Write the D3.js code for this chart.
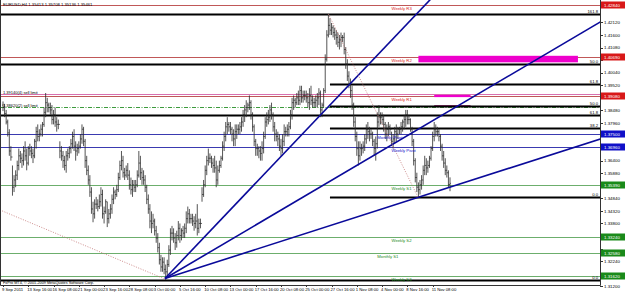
<!DOCTYPE html>
<html>
<head>
<meta charset="utf-8">
<script src="https://cdn.jsdelivr.net/npm/d3@7"></script>
<style>
    body { margin: 0; background: #fff; }
    svg { display: block; }
    text { font-family: "Liberation Sans", Arial, sans-serif; }
</style>
</head>
<body>
<svg id="chart" width="625" height="293"></svg>
<script>
var chartTitle = 'EURUSD,H4  1.35413 1.35708 1.35136 1.35461';
var copyright = 'FxPro MT4, \u00a9 2001-2009 MetaQuotes Software Corp.';

// H4 bars, [high, low, close]; open is the previous close
var firstOpen = 1.3870;
var bars = [
    // 9 Sep
    [1.3885,1.3845,1.3860],[1.3875,1.3820,1.3835],[1.3850,1.3790,1.3800],[1.3810,1.3740,1.3755],[1.3770,1.3660,1.3680],[1.3700,1.3640,1.3655],
    // 12 Sep
    [1.3620,1.3495,1.3530],[1.3580,1.3510,1.3560],[1.3600,1.3530,1.3580],[1.3640,1.3560,1.3620],[1.3690,1.3600,1.3660],[1.3680,1.3630,1.3650],
    [1.3670,1.3610,1.3640],[1.3700,1.3620,1.3680],[1.3720,1.3640,1.3660],[1.3690,1.3600,1.3630],[1.3700,1.3620,1.3690],[1.3710,1.3660,1.3680],
    [1.3700,1.3650,1.3670],[1.3690,1.3630,1.3660],[1.3730,1.3650,1.3720],[1.3780,1.3690,1.3760],[1.3790,1.3720,1.3740],[1.3770,1.3720,1.3750],
    [1.3790,1.3740,1.3770],[1.3800,1.3740,1.3790],[1.3860,1.3780,1.3840],[1.3920,1.3820,1.3880],[1.3900,1.3840,1.3870],[1.3880,1.3840,1.3860],
    [1.3880,1.3830,1.3850],[1.3870,1.3790,1.3810],[1.3850,1.3790,1.3830],[1.3860,1.3780,1.3800],[1.3820,1.3760,1.3790],[1.3810,1.3770,1.3790],
    // 19 Sep
    [1.3720,1.3650,1.3680],[1.3700,1.3640,1.3660],[1.3680,1.3610,1.3640],[1.3660,1.3600,1.3620],[1.3680,1.3590,1.3660],[1.3690,1.3640,1.3670],
    [1.3700,1.3650,1.3690],[1.3730,1.3670,1.3710],[1.3760,1.3690,1.3740],[1.3770,1.3680,1.3700],[1.3720,1.3640,1.3680],[1.3710,1.3660,1.3690],
    [1.3720,1.3670,1.3700],[1.3750,1.3690,1.3730],[1.3790,1.3710,1.3770],[1.3780,1.3700,1.3720],[1.3730,1.3610,1.3640],[1.3660,1.3580,1.3600],
    [1.3620,1.3540,1.3560],[1.3580,1.3490,1.3510],[1.3530,1.3420,1.3440],[1.3470,1.3385,1.3420],[1.3480,1.3400,1.3460],[1.3490,1.3440,1.3460],
    [1.3480,1.3430,1.3450],[1.3500,1.3440,1.3470],[1.3530,1.3450,1.3500],[1.3520,1.3400,1.3420],[1.3450,1.3380,1.3430],[1.3480,1.3420,1.3470],
    // 26 Sep
    [1.3470,1.3365,1.3400],[1.3440,1.3380,1.3420],[1.3460,1.3400,1.3440],[1.3500,1.3420,1.3480],[1.3530,1.3460,1.3510],[1.3520,1.3480,1.3500],
    [1.3540,1.3490,1.3520],[1.3590,1.3510,1.3570],[1.3640,1.3560,1.3620],[1.3680,1.3600,1.3640],[1.3660,1.3570,1.3590],[1.3610,1.3560,1.3580],
    [1.3620,1.3570,1.3600],[1.3630,1.3560,1.3580],[1.3600,1.3520,1.3540],[1.3570,1.3500,1.3520],[1.3560,1.3490,1.3540],[1.3560,1.3510,1.3530],
    [1.3560,1.3510,1.3540],[1.3600,1.3530,1.3580],[1.3680,1.3570,1.3630],[1.3660,1.3560,1.3590],[1.3610,1.3540,1.3570],[1.3600,1.3540,1.3560],
    [1.3580,1.3510,1.3530],[1.3540,1.3460,1.3480],[1.3500,1.3420,1.3440],[1.3460,1.3360,1.3390],[1.3430,1.3340,1.3380],[1.3420,1.3360,1.3390],
    // 3 Oct
    [1.3400,1.3330,1.3350],[1.3370,1.3300,1.3320],[1.3340,1.3260,1.3280],[1.3300,1.3210,1.3230],[1.3250,1.3180,1.3200],[1.3240,1.3180,1.3220],
    [1.3240,1.3170,1.3190],[1.3210,1.3146,1.3180],[1.3230,1.3160,1.3210],[1.3290,1.3200,1.3270],[1.3360,1.3250,1.3340],[1.3370,1.3310,1.3340],
    [1.3360,1.3300,1.3320],[1.3340,1.3270,1.3300],[1.3350,1.3280,1.3330],[1.3390,1.3310,1.3360],[1.3380,1.3300,1.3330],[1.3360,1.3310,1.3350],
    [1.3370,1.3320,1.3340],[1.3380,1.3320,1.3360],[1.3430,1.3340,1.3400],[1.3450,1.3380,1.3420],[1.3440,1.3380,1.3400],[1.3420,1.3380,1.3400],
    [1.3420,1.3370,1.3390],[1.3410,1.3350,1.3380],[1.3420,1.3360,1.3390],[1.3460,1.3330,1.3360],[1.3400,1.3340,1.3380],[1.3400,1.3360,1.3380],
    // 10 Oct
    [1.3530,1.3470,1.3500],[1.3560,1.3490,1.3540],[1.3620,1.3530,1.3600],[1.3660,1.3580,1.3640],[1.3690,1.3620,1.3650],[1.3670,1.3630,1.3650],
    [1.3660,1.3610,1.3630],[1.3650,1.3590,1.3620],[1.3660,1.3590,1.3610],[1.3640,1.3530,1.3560],[1.3620,1.3540,1.3600],[1.3640,1.3590,1.3620],
    [1.3660,1.3610,1.3650],[1.3720,1.3640,1.3700],[1.3760,1.3680,1.3740],[1.3800,1.3720,1.3780],[1.3820,1.3750,1.3790],[1.3800,1.3760,1.3780],
    [1.3800,1.3750,1.3770],[1.3780,1.3720,1.3750],[1.3770,1.3700,1.3730],[1.3790,1.3700,1.3760],[1.3790,1.3730,1.3770],[1.3790,1.3750,1.3770],
    [1.3800,1.3750,1.3780],[1.3820,1.3760,1.3800],[1.3850,1.3780,1.3830],[1.3870,1.3800,1.3850],[1.3890,1.3820,1.3860],[1.3880,1.3840,1.3870],
    // 17 Oct
    [1.3910,1.3850,1.3880],[1.3890,1.3810,1.3830],[1.3840,1.3760,1.3780],[1.3790,1.3700,1.3720],[1.3730,1.3660,1.3690],[1.3710,1.3660,1.3690],
    [1.3700,1.3650,1.3680],[1.3700,1.3640,1.3670],[1.3720,1.3640,1.3690],[1.3760,1.3670,1.3740],[1.3820,1.3730,1.3800],[1.3840,1.3780,1.3810],
    [1.3850,1.3790,1.3820],[1.3870,1.3800,1.3850],[1.3880,1.3810,1.3830],[1.3840,1.3760,1.3780],[1.3800,1.3720,1.3750],[1.3770,1.3720,1.3740],
    [1.3760,1.3700,1.3730],[1.3750,1.3680,1.3700],[1.3730,1.3660,1.3690],[1.3750,1.3670,1.3720],[1.3790,1.3700,1.3760],[1.3780,1.3740,1.3760],
    [1.3790,1.3740,1.3770],[1.3800,1.3740,1.3780],[1.3850,1.3770,1.3830],[1.3900,1.3810,1.3880],[1.3910,1.3850,1.3890],[1.3900,1.3860,1.3880],
    // 24 Oct
    [1.3920,1.3870,1.3900],[1.3930,1.3870,1.3890],[1.3950,1.3870,1.3930],[1.3950,1.3880,1.3900],[1.3930,1.3880,1.3910],[1.3930,1.3890,1.3910],
    [1.3930,1.3880,1.3900],[1.3920,1.3860,1.3880],[1.3940,1.3850,1.3910],[1.3950,1.3870,1.3890],[1.3910,1.3860,1.3880],[1.3900,1.3860,1.3880],
    [1.3910,1.3860,1.3890],[1.3920,1.3860,1.3900],[1.3940,1.3870,1.3920],[1.3930,1.3820,1.3850],[1.3880,1.3820,1.3870],[1.3940,1.3860,1.3930],
    [1.4080,1.3920,1.4060],[1.4180,1.4050,1.4160],[1.4247,1.4150,1.4200],[1.4230,1.4160,1.4180],[1.4210,1.4160,1.4190],[1.4200,1.4150,1.4170],
    [1.4190,1.4140,1.4160],[1.4180,1.4120,1.4150],[1.4170,1.4110,1.4130],[1.4160,1.4100,1.4140],[1.4170,1.4110,1.4150],[1.4160,1.4130,1.4150],
    // 31 Oct
    [1.4170,1.4080,1.4100],[1.4110,1.4020,1.4040],[1.4060,1.3970,1.3990],[1.4010,1.3940,1.3960],[1.3980,1.3900,1.3930],[1.3950,1.3850,1.3870],
    [1.3880,1.3780,1.3800],[1.3820,1.3720,1.3740],[1.3760,1.3660,1.3690],[1.3720,1.3620,1.3660],[1.3720,1.3640,1.3690],[1.3710,1.3660,1.3690],
    [1.3720,1.3670,1.3700],[1.3750,1.3680,1.3730],[1.3790,1.3710,1.3770],[1.3800,1.3730,1.3760],[1.3780,1.3720,1.3750],[1.3770,1.3730,1.3750],
    [1.3760,1.3700,1.3720],[1.3730,1.3660,1.3690],[1.3740,1.3640,1.3710],[1.3840,1.3690,1.3800],[1.3870,1.3780,1.3820],[1.3840,1.3790,1.3820],
    [1.3840,1.3790,1.3810],[1.3830,1.3760,1.3790],[1.3800,1.3730,1.3750],[1.3790,1.3720,1.3770],[1.3800,1.3740,1.3780],[1.3790,1.3750,1.3770],
    // 7 Nov
    [1.3760,1.3700,1.3720],[1.3750,1.3690,1.3730],[1.3780,1.3710,1.3760],[1.3790,1.3720,1.3750],[1.3780,1.3730,1.3770],[1.3780,1.3750,1.3770],
    [1.3800,1.3750,1.3780],[1.3810,1.3760,1.3800],[1.3830,1.3770,1.3810],[1.3850,1.3780,1.3830],[1.3850,1.3790,1.3810],[1.3830,1.3790,1.3810],
    [1.3815,1.3760,1.3770],[1.3780,1.3700,1.3720],[1.3730,1.3620,1.3640],[1.3650,1.3550,1.3570],[1.3590,1.3510,1.3530],[1.3550,1.3485,1.3520],
    [1.3560,1.3500,1.3540],[1.3580,1.3520,1.3560],[1.3620,1.3540,1.3600],[1.3660,1.3580,1.3620],[1.3650,1.3580,1.3610],[1.3640,1.3590,1.3620],
    [1.3660,1.3610,1.3650],[1.3700,1.3640,1.3690],[1.3760,1.3680,1.3740],[1.3800,1.3720,1.3770],[1.3790,1.3740,1.3760],[1.3780,1.3740,1.3760],
    // 14 Nov
    [1.3770,1.3720,1.3740],[1.3750,1.3680,1.3700],[1.3710,1.3640,1.3660],[1.3680,1.3610,1.3630],[1.3650,1.3580,1.3600],[1.3620,1.3570,1.3590],
    [1.3600,1.3530,1.35413],[1.35708,1.35136,1.35461]
];

var timeLabels = ['9 Sep 2011', '13 Sep 16:00', '16 Sep 08:00', '21 Sep 00:00', '23 Sep 16:00',
    '28 Sep 08:00', '3 Oct 00:00', '5 Oct 16:00', '10 Oct 08:00', '13 Oct 00:00', '17 Oct 16:00',
    '20 Oct 08:00', '25 Oct 00:00', '27 Oct 16:00', '1 Nov 08:00', '4 Nov 00:00', '8 Nov 16:00',
    '11 Nov 08:00'];
var barsPerLabel = 16;

var priceTicks = [1.31200, 1.31720, 1.32240, 1.32760, 1.33280, 1.33800, 1.34320, 1.34840,
    1.35360, 1.35880, 1.36400, 1.36920, 1.37440, 1.37960, 1.38480, 1.39000, 1.39520,
    1.40040, 1.40560, 1.41080, 1.41600, 1.42120];

// pivot levels [name, price]
var pivots = [
    ['Weekly R3', 1.4284], ['Weekly R2', 1.4069], ['Weekly R1', 1.3908],
    ['Monthly Pivot', 1.3750], ['Weekly Pivot', 1.3696], ['Weekly S1', 1.3539],
    ['Weekly S2', 1.3324], ['Monthly S1', 1.3258], ['Weekly S3', 1.3162]
];

// fibo level lines [label, price, first bar]
var fibLevels = [
    ['161.8', 1.4247, -10], ['50.0', 1.4040, -10], ['61.8', 1.3829, -10], ['0.0', 1.3146, -10],
    ['61.8', 1.3957, 207], ['50.0', 1.3866, 207], ['38.2', 1.3775, 207], ['0.0', 1.3489, 207]
];

// pending orders [text, price]
var orders = [['1.39140(4) sell limit', 1.3914], ['1.38620(2) sell limit', 1.3862]];

// rectangles [bar from, bar to, price top, price bottom]
var zones = [[263, 364, 1.4074, 1.4047], [273, 296, 1.3912, 1.3903], [273, 296, 1.3870, 1.3862]];
var zoneColors = ['#ee00cc', '#ee00cc', '#a0307a'];

// trend lines [bar1, price1, bar2, price2]
var trendLines = [[102.5, 1.3152, 257.6, 1.4218], [102.5, 1.3152, 307, 1.3940], [102.5, 1.3152, 257.6, 1.3477]];
var fiboDiagonals = [[206, 1.4247, 263, 1.3485], [-2, 1.3436, 102.5, 1.3150]];

var width = 625, height = 293;
var plotRight = 600, plotBottom = 285;

var svg = d3.select('#chart');
var x = d3.scaleLinear().domain([0, 283]).range([3, 450]);
var y = d3.scaleLinear().domain([1.3146, 1.4247]).range([280, 14]);
var fmt = d3.format('.5f');

svg.append('rect').attr('width', width).attr('height', height).attr('fill', '#fff');

svg.append('defs').append('clipPath').attr('id', 'plotClip')
    .append('rect').attr('x', 0).attr('y', 0).attr('width', plotRight).attr('height', plotBottom);

var plot = svg.append('g').attr('clip-path', 'url(#plotClip)');

function pivotColor(name) {
    if (name.indexOf('Pivot') != -1) return '#3a3ab0';
    if (/ R\d/.test(name)) return '#c05858';
    return '#6cae6c';
}

function boxColor(name) {
    if (name.indexOf('Pivot') != -1) return '#1010c8';
    if (/ R\d/.test(name)) return '#d81818';
    return '#1a8a1a';
}

// pivot lines
plot.selectAll('line.pivot')
    .data(pivots)
    .enter().append('line')
    .attr('class', 'pivot')
    .attr('x1', 0).attr('x2', plotRight)
    .attr('y1', function (d) { return Math.round(y(d[1])) + 0.5; })
    .attr('y2', function (d) { return Math.round(y(d[1])) + 0.5; })
    .attr('stroke', function (d) { return pivotColor(d[0]); })
    .attr('stroke-width', 1);

// pending orders
plot.selectAll('line.order')
    .data(orders)
    .enter().append('line')
    .attr('class', 'order')
    .attr('x1', 0).attr('x2', plotRight)
    .attr('y1', function (d) { return Math.round(y(d[1])) + 0.5; })
    .attr('y2', function (d) { return Math.round(y(d[1])) + 0.5; })
    .attr('stroke', function (d, i) { return i == 0 ? '#d870b0' : '#3c9a3c'; })
    .attr('stroke-dasharray', function (d, i) { return i == 0 ? null : '4,1.5,1,1.5'; })
    .attr('stroke-width', 1);

// rectangles
plot.selectAll('rect.zone')
    .data(zones)
    .enter().append('rect')
    .attr('class', 'zone')
    .attr('x', function (d) { return x(d[0]); })
    .attr('width', function (d) { return x(d[1]) - x(d[0]); })
    .attr('y', function (d) { return y(d[2]); })
    .attr('height', function (d) { return Math.max(2, y(d[3]) - y(d[2])); })
    .attr('fill', function (d, i) { return zoneColors[i]; });

// fibo levels
plot.selectAll('line.fib')
    .data(fibLevels)
    .enter().append('line')
    .attr('class', 'fib')
    .attr('x1', function (d) { return x(d[2]); }).attr('x2', plotRight)
    .attr('y1', function (d) { return Math.round(y(d[1])) + 0.5; })
    .attr('y2', function (d) { return Math.round(y(d[1])) + 0.5; })
    .attr('stroke', '#000')
    .attr('stroke-width', 2);

plot.selectAll('text.fib')
    .data(fibLevels)
    .enter().append('text')
    .attr('class', 'fib')
    .attr('x', plotRight - 2)
    .attr('y', function (d) { return Math.round(y(d[1])) - 1.5; })
    .attr('text-anchor', 'end')
    .attr('font-size', 4.2)
    .attr('fill', '#000')
    .text(function (d) { return d[0]; });

// price bars
var ohlc = bars.map(function (b, i) {
    return {i: i, o: i == 0 ? firstOpen : bars[i - 1][2], h: b[0], l: b[1], c: b[2]};
});

var barG = plot.append('g')
    .attr('stroke', '#2a2a2a')
    .attr('stroke-width', 0.8);

barG.selectAll('path')
    .data(ohlc)
    .enter().append('path')
    .attr('d', function (d) {
        var cx = x(d.i);
        return 'M' + cx + ',' + y(d.h) + 'V' + y(d.l) +
            'M' + (cx - 0.8) + ',' + y(d.o) + 'H' + cx +
            'M' + cx + ',' + y(d.c) + 'H' + (cx + 0.8);
    })
    .attr('fill', 'none');

// trend lines extended to the right edge
var lastBar = x.invert(plotRight + 5);
function rayPoints(t) {
    var slope = (t[3] - t[1]) / (t[2] - t[0]);
    return [[t[0], t[1]], [lastBar, t[1] + slope * (lastBar - t[0])]];
}

var lineGen = d3.line()
    .x(function (d) { return x(d[0]); })
    .y(function (d) { return y(d[1]); });

plot.selectAll('path.trend')
    .data(trendLines)
    .enter().append('path')
    .attr('class', 'trend')
    .attr('d', function (d) { return lineGen(rayPoints(d)); })
    .attr('fill', 'none')
    .attr('stroke', '#0a0a9a')
    .attr('stroke-width', 1.6);

plot.selectAll('path.diag')
    .data(fiboDiagonals)
    .enter().append('path')
    .attr('class', 'diag')
    .attr('d', function (d) { return lineGen([[d[0], d[1]], [d[2], d[3]]]); })
    .attr('fill', 'none')
    .attr('stroke', '#c07070')
    .attr('stroke-width', 0.8)
    .attr('stroke-dasharray', '1,1.5');

// pivot labels
plot.selectAll('text.pivot')
    .data(pivots)
    .enter().append('text')
    .attr('class', 'pivot')
    .attr('x', function (d) { return d[0].indexOf('Monthly') == 0 ? x(237) : x(246); })
    .attr('y', function (d) { return Math.round(y(d[1])) + 5; })
    .attr('font-size', 4.2)
    .attr('fill', function (d) { return boxColor(d[0]); })
    .text(function (d) { return d[0]; });

// order labels
plot.selectAll('text.order')
    .data(orders)
    .enter().append('text')
    .attr('class', 'order')
    .attr('x', 3)
    .attr('y', function (d) { return Math.round(y(d[1])) - 0.5; })
    .attr('font-size', 4)
    .attr('fill', '#000')
    .text(function (d) { return d[0]; });

plot.append('text')
    .attr('x', 3).attr('y', 6)
    .attr('font-size', 4.2)
    .attr('fill', '#000')
    .text(chartTitle);

plot.append('text')
    .attr('x', 3).attr('y', 284)
    .attr('font-size', 3.8)
    .attr('fill', '#000')
    .text(copyright);

// frame
svg.append('path')
    .attr('d', 'M0.5,0V' + (plotRight ? plotBottom + 0.5 : 0) + 'H' + (plotRight + 0.5) + 'V0')
    .attr('fill', 'none')
    .attr('stroke', '#333')
    .attr('stroke-width', 1);

// price axis; grid labels hidden where a level box covers them
var axisG = svg.append('g');
var boxYs = pivots.map(function (d) { return y(d[1]); });
var freeTicks = priceTicks.filter(function (t) {
    return boxYs.every(function (by) { return Math.abs(y(t) - by) > 6.5; });
});

axisG.selectAll('line.tick')
    .data(priceTicks)
    .enter().append('line')
    .attr('x1', plotRight).attr('x2', plotRight + 3)
    .attr('y1', function (d) { return Math.round(y(d)) + 0.5; })
    .attr('y2', function (d) { return Math.round(y(d)) + 0.5; })
    .attr('stroke', '#333');

axisG.selectAll('text.tick')
    .data(freeTicks)
    .enter().append('text')
    .attr('x', plotRight + 4)
    .attr('y', function (d) { return y(d) + 1.6; })
    .attr('font-size', 4.4)
    .attr('fill', '#000')
    .text(function (d) { return fmt(d); });

var boxes = axisG.selectAll('g.box')
    .data(pivots)
    .enter().append('g')
    .attr('transform', function (d) { return 'translate(' + (plotRight + 1) + ',' + Math.round(y(d[1])) + ')'; });

boxes.append('rect')
    .attr('x', 0).attr('y', -3.5)
    .attr('width', 24).attr('height', 7)
    .attr('fill', function (d) { return boxColor(d[0]); });

boxes.append('text')
    .attr('x', 3).attr('y', 1.6)
    .attr('font-size', 4.4)
    .attr('fill', '#fff')
    .text(function (d) { return fmt(d[1]); });

// time axis
var timeG = svg.append('g');
timeG.selectAll('line')
    .data(timeLabels)
    .enter().append('line')
    .attr('x1', function (d, i) { return Math.round(x(i * barsPerLabel)) + 0.5; })
    .attr('x2', function (d, i) { return Math.round(x(i * barsPerLabel)) + 0.5; })
    .attr('y1', plotBottom).attr('y2', plotBottom + 2)
    .attr('stroke', '#333');

timeG.selectAll('text')
    .data(timeLabels)
    .enter().append('text')
    .attr('x', function (d, i) { return x(i * barsPerLabel) - 1; })
    .attr('y', 291)
    .attr('font-size', 4.2)
    .attr('fill', '#000')
    .text(function (d) { return d; });
</script>
</body>
</html>
